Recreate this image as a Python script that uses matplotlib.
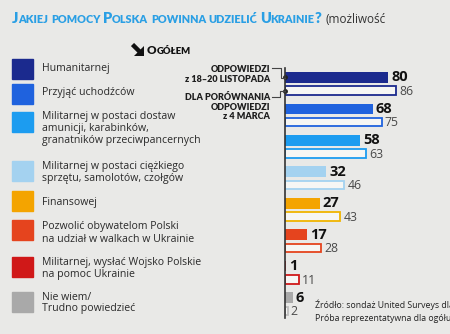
import matplotlib
matplotlib.use('Agg')
import matplotlib.pyplot as plt
from matplotlib.patches import Rectangle, Polygon
from matplotlib.lines import Line2D

# data
labels = ['Humanitarnej', 'Przyjąć uchodźców',
          'Militarnej w postaci dostaw\namunicji, karabinków,\ngranatników przeciwpancernych',
          'Militarnej w postaci ciężkiego\nsprzętu, samolotów, czołgów',
          'Finansowej',
          'Pozwolić obywatelom Polski\nna udział w walkach w Ukrainie',
          'Militarnej, wysłać Wojsko Polskie\nna pomoc Ukrainie',
          'Nie wiem/\nTrudno powiedzieć']
nov = [80, 68, 58, 32, 27, 17, 1, 6]      # z 18-20 listopada
mar = [86, 75, 63, 46, 43, 28, 11, 2]     # z 4 marca
colors = ['#1b2a8e', '#1f62de', '#1c9cf0', '#a4d2f0', '#f4a400', '#e5441e', '#d01818', '#a9a9a9']
edge_mar = ['#1b2a8e', '#1f62de', '#1c9cf0', '#a4d2f0', '#f0b400', '#e5441e', '#d01818', '#bdbdbd']

W, H = 450, 334
bg = '#e9e9e7'
fig = plt.figure(figsize=(W / 100, H / 100), dpi=100, facecolor=bg)
FONT = 'Open Sans'
HEAD = 'Lato'


def px(x, y):
    return x / W, 1 - y / H


def smallcaps(x, y, s, big, small, color, weight='heavy', family=HEAD):
    r = fig.canvas.get_renderer()
    cur = x
    i = 0
    while i < len(s):
        c = s[i]
        if c == ' ':
            cur += small * 0.32
            i += 1
            continue
        j = i
        if c.isupper() or not c.isalpha():
            size = big
            while j < len(s) and s[j] != ' ' and (s[j].isupper() or not s[j].isalpha()):
                j += 1
        else:
            size = small
            while j < len(s) and s[j] != ' ' and s[j].isalpha() and not s[j].isupper():
                j += 1
        t = fig.text(*px(cur, y), s[i:j].upper(), fontsize=size, color=color,
                     fontweight=weight, family=family, va='baseline', ha='left')
        cur += t.get_window_extent(r).width
        i = j
    return cur


# title
end = smallcaps(12, 23, 'Jakiej pomocy Polska powinna udzielić Ukrainie?', 10.5, 7.85, '#2a9fe4')
fig.text(*px(end + 4, 23), '(możliwość', fontsize=8.5, color='#333333', family=FONT, va='baseline')

# "Ogółem" marker
fig.add_artist(Line2D([132.5 / W, 139.5 / W], [1 - 44.5 / H, 1 - 51.5 / H], color='#111111',
                      lw=3.2, solid_capstyle='butt', transform=fig.transFigure))
fig.add_artist(Polygon([px(143.5, 45.5), px(143.5, 55.5), px(133.5, 55.5)], closed=True,
                       transform=fig.transFigure, color='#111111', lw=0))
smallcaps(147, 54, 'Ogółem', 8.5, 6.8, '#111111')

# legend
sq_top = [59, 84, 112, 161, 191, 220, 257, 292]
txt_y = [69, 93, 117, 166, 202, 227, 262, 297]
for k in range(len(labels)):
    fig.patches.append(Rectangle(px(12, sq_top[k] + 20), 21 / W, 20 / H,
                                 transform=fig.transFigure, color=colors[k]))
    for n, line in enumerate(labels[k].split('\n')):
        fig.text(*px(42, txt_y[k] + 12 * n), line, fontsize=7.6, color='#2a2a2a',
                 family=FONT, va='center')

# bars
ax = fig.add_axes([285 / W, 1 - 318 / H, 165 / W, 250 / H])
ax.set_facecolor('none')
rows = list(range(len(nov)))
off = 0.423
ax.barh(rows, nov, height=0.34, color=colors, align='center')
ax.barh([r + off for r in rows], mar, height=0.27, color='#f6f6f4',
        edgecolor=edge_mar, linewidth=1.3, align='center')
for r in rows:
    ax.text(nov[r] + 2.3, r, str(nov[r]), fontsize=10.5, fontweight='bold', color='#111111',
            va='center', ha='left', family=FONT)
    ax.text(mar[r] + 2.3, r + off + 0.02, str(mar[r]), fontsize=8.8, color='#4a4a4a',
            va='center', ha='left', family=FONT)
ax.set_xlim(0, 165 / 1.29)
ax.set_ylim(7.65, -0.30)
for s in ['top', 'right', 'bottom']:
    ax.spines[s].set_visible(False)
ax.spines['left'].set_color('#333333')
ax.spines['left'].set_linewidth(1.2)
ax.set_xticks([])
ax.set_yticks([])

# series annotations
ann = [(72, 'ODPOWIEDZI'), (81.5, 'z 18–20 LISTOPADA'),
       (100, 'DLA PORÓWNANIA'), (109.5, 'ODPOWIEDZI'), (119, 'z 4 MARCA')]
for yy, s in ann:
    fig.text(*px(270, yy), s, fontsize=6.5, fontweight='heavy', color='#1e1e1e',
             family=HEAD, ha='right', va='baseline')
lc = '#444444'
fig.add_artist(Line2D([272 / W, 281 / W, 281 / W, 285 / W],
                      [1 - 68 / H, 1 - 68 / H, 1 - 78 / H, 1 - 78 / H],
                      color=lc, lw=0.8, transform=fig.transFigure))
fig.add_artist(Line2D([272 / W, 280 / W, 280 / W, 285 / W],
                      [1 - 97 / H, 1 - 97 / H, 1 - 91 / H, 1 - 91 / H],
                      color=lc, lw=0.8, transform=fig.transFigure))
ax.plot([0, 0], [0, off], 'o', color='#222222', ms=2.5, clip_on=False)

# source
fig.text(*px(315, 308), 'Źródło: sondaż United Surveys dla', fontsize=6.3, color='#222222',
         family=FONT, va='baseline')
fig.text(*px(315, 321), 'Próba reprezentatywna dla ogółu', fontsize=6.3, color='#222222',
         family=FONT, va='baseline')

fig.savefig('out.png', dpi=100, facecolor=bg)
